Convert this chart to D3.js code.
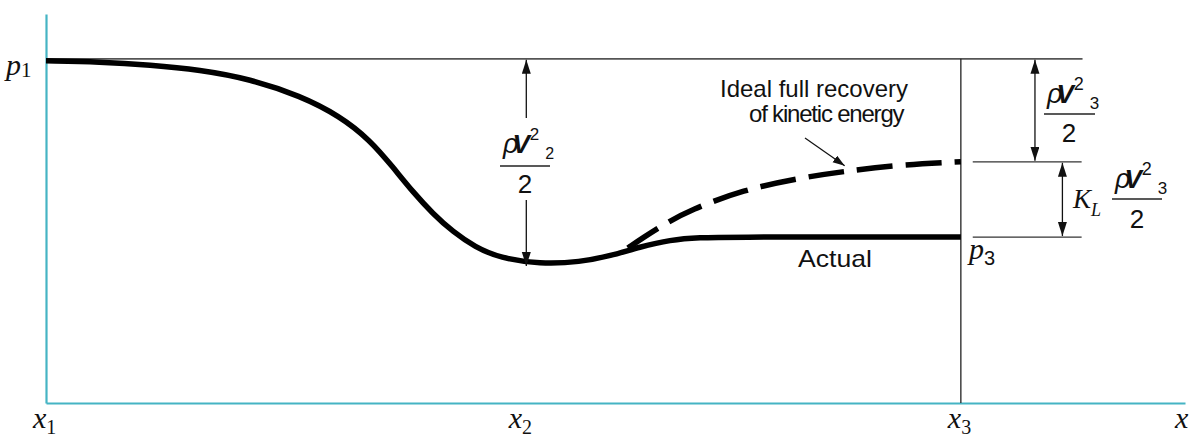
<!DOCTYPE html>
<html><head><meta charset="utf-8">
<script src="https://cdn.jsdelivr.net/npm/d3@7"></script>
<style>body{margin:0;background:#fff}svg{display:block}</style>
</head><body><svg id="c" width="1194" height="442"></svg>
<script>
// ---- data ----
const stationNames = ["x", "x", "x", "x"];
const stationSubs  = ["1", "2", "3", ""];
const stationPos   = [0, 0.52, 1, 1.245];

const actualX = [0, 0.059, 0.114, 0.168, 0.223, 0.278, 0.321, 0.354, 0.379, 0.401, 0.423, 0.445, 0.469, 0.496, 0.540, 0.584, 0.617, 0.649, 0.682, 0.715, 0.748, 0.9, 1.0];
const actualP = [1, 0.997, 0.988, 0.974, 0.947, 0.898, 0.839, 0.769, 0.690, 0.617, 0.553, 0.500, 0.456, 0.424, 0.406, 0.412, 0.430, 0.456, 0.477, 0.484, 0.485, 0.485, 0.485];

const idealX = [0.636, 0.652, 0.676, 0.704, 0.762, 0.824, 0.875, 0.933, 1.0];
const idealP = [0.453, 0.482, 0.523, 0.564, 0.623, 0.658, 0.678, 0.696, 0.705];

const levelNames  = ["p1", "ideal", "p3", "min"];
const levelValues = [1, 0.705, 0.485, 0.406];

// ---- setup ----
const svg = d3.select("#c");
const x = d3.scaleLinear().domain([0, 1.245]).range([46, 1185]);
const y = d3.scaleLinear().domain([0, 1.137]).range([403, 14]);
const L = Object.fromEntries(levelNames.map((n, i) => [n, levelValues[i]]));

const defs = svg.append("defs");
defs.append("marker").attr("id", "ah")
  .attr("markerUnits", "userSpaceOnUse")
  .attr("markerWidth", 16).attr("markerHeight", 10)
  .attr("refX", 14).attr("refY", 4.5)
  .attr("orient", "auto-start-reverse")
  .append("path").attr("d", "M0,0 L14,4.5 L0,9 Z").attr("fill", "#111");
defs.append("marker").attr("id", "ahs")
  .attr("markerUnits", "userSpaceOnUse")
  .attr("markerWidth", 14).attr("markerHeight", 10)
  .attr("refX", 12).attr("refY", 4)
  .attr("orient", "auto")
  .append("path").attr("d", "M0,0 L12,4 L0,8 Z").attr("fill", "#111");

// axes
const xAxis = svg.append("g").attr("transform", `translate(0,${y(0)})`)
  .call(d3.axisBottom(x).tickValues([]).tickSizeOuter(0));
const yAxis = svg.append("g").attr("transform", `translate(${x(0)},0)`)
  .call(d3.axisLeft(y).tickValues([]).tickSizeOuter(0));
[xAxis, yAxis].forEach(g => g.select(".domain").attr("stroke", "#45b4c4").attr("stroke-width", 2.2));

// reference lines
const thin = (x1, y1, x2, y2, w, c) => svg.append("line")
  .attr("x1", x1).attr("y1", y1).attr("x2", x2).attr("y2", y2)
  .attr("stroke", c || "#444").attr("stroke-width", w || 1.4);
thin(x(0), y(L.p1) - 2, x(1.133), y(L.p1) - 2, 1.6, "#555");
thin(x(1), y(L.p1) - 2, x(1), y(0), 1.3, "#222");
thin(x(1.013), y(L.ideal), x(1.132), y(L.ideal), 1.3, "#333");
thin(x(1.013), y(L.p3), x(1.132), y(L.p3), 1.3, "#333");

// curves
const line = d3.line().curve(d3.curveBasis).x(d => x(d[0])).y(d => y(d[1]));
svg.append("path").datum(idealX.map((v, i) => [v, idealP[i]]))
  .attr("d", line).attr("fill", "none").attr("stroke", "#000")
  .attr("stroke-width", 5.5).attr("stroke-dasharray", "36,13");
svg.append("path").datum(actualX.map((v, i) => [v, actualP[i]]))
  .attr("d", line).attr("fill", "none").attr("stroke", "#000")
  .attr("stroke-width", 5.5);

// dimension arrows
const arrow = (x1, y1, x2, y2, both) => {
  const l = svg.append("line").attr("x1", x1).attr("y1", y1).attr("x2", x2).attr("y2", y2)
    .attr("stroke", "#111").attr("stroke-width", 1.3).attr("marker-end", "url(#ah)");
  if (both) l.attr("marker-start", "url(#ah)");
};
const xm = x(0.525);
arrow(xm, 118, xm, y(L.p1) - 1);
arrow(xm, 200, xm, y(L.min) + 2);
arrow(x(1.081), y(L.p1) - 1, x(1.081), y(L.ideal) - 1, true);
arrow(x(1.111), y(L.ideal) + 1, x(1.111), y(L.p3) - 1, true);

// leader arrow
svg.append("line").attr("x1", 805).attr("y1", 138).attr("x2", x(0.873)).attr("y2", y(L.ideal) + 4)
  .attr("stroke", "#111").attr("stroke-width", 1.2).attr("marker-end", "url(#ahs)");

// station labels
const serif = "'Liberation Serif','DejaVu Serif',serif";
const sans = "'Liberation Sans',Arial,sans-serif";
stationPos.forEach((p, i) => {
  const t = svg.append("text").attr("x", x(p) - (stationSubs[i] ? 13 : 10)).attr("y", 428)
    .attr("font-family", serif).attr("fill", "#111");
  t.append("tspan").attr("font-style", "italic").attr("font-size", 30).text(stationNames[i]);
  if (stationSubs[i]) t.append("tspan").attr("font-size", 20).attr("dy", 6).text(stationSubs[i]);
});

// p1, p3
const pl = svg.append("text").attr("x", 6).attr("y", 75).attr("font-family", serif).attr("fill", "#111");
pl.append("tspan").attr("font-style", "italic").attr("font-size", 30).text("p");
pl.append("tspan").attr("font-size", 21).attr("dy", 2).text("1");
const p3 = svg.append("text").attr("x", 969).attr("y", 259).attr("font-family", serif).attr("fill", "#111");
p3.append("tspan").attr("font-style", "italic").attr("font-size", 30).text("p");
p3.append("tspan").attr("font-family", sans).attr("font-size", 20).attr("dy", 6).text("3");

// text labels
const txt = (s, x0, yb, len, ls) => {
  const t = svg.append("text").attr("x", x0).attr("y", yb)
    .attr("font-family", sans).attr("font-size", 24).attr("fill", "#111").text(s);
  if (len) t.attr("textLength", len).attr("lengthAdjust", "spacingAndGlyphs");
  if (ls) t.attr("letter-spacing", ls);
  return t;
};
txt("Ideal full recovery", 720, 97, 188);
txt("of kinetic energy", 749, 122, null, -1.2);
txt("Actual", 798, 267, 74);

// fractions  rho V^2_sub / 2
function frac(cx, baseTop, sub, barL, barR, barY, denomY, supSize, subSize) {
  const t = svg.append("text").attr("x", barL + 3).attr("y", baseTop)
    .attr("font-family", sans).attr("fill", "#111");
  t.append("tspan").attr("font-style", "italic").attr("font-size", 27).text("ρ");
  t.append("tspan").attr("font-style", "italic").attr("font-weight", "bold").attr("font-size", 26).attr("dx", -6).text("V");
  t.append("tspan").attr("font-size", supSize).attr("dy", -13).text("2");
  t.append("tspan").attr("font-size", subSize).attr("dx", 6).attr("dy", 19).text(sub);
  svg.append("line").attr("x1", barL).attr("x2", barR).attr("y1", barY).attr("y2", barY)
    .attr("stroke", "#222").attr("stroke-width", 1.5);
  svg.append("text").attr("x", cx).attr("y", denomY).attr("text-anchor", "middle")
    .attr("font-family", sans).attr("font-size", 26).attr("fill", "#111").text("2");
}
frac(525, 153, "2", 500, 550, 166, 193, 17, 16);
frac(1069, 103, "3", 1044, 1095, 114, 142, 18, 17);
const k = svg.append("text").attr("x", 1073).attr("y", 208).attr("font-family", serif).attr("fill", "#111");
k.append("tspan").attr("font-style", "italic").attr("font-size", 27).text("K");
k.append("tspan").attr("font-style", "italic").attr("font-size", 18).attr("dy", 8).text("L");
frac(1137, 188, "3", 1112, 1162, 199, 228, 18, 17);
</script></body></html>
